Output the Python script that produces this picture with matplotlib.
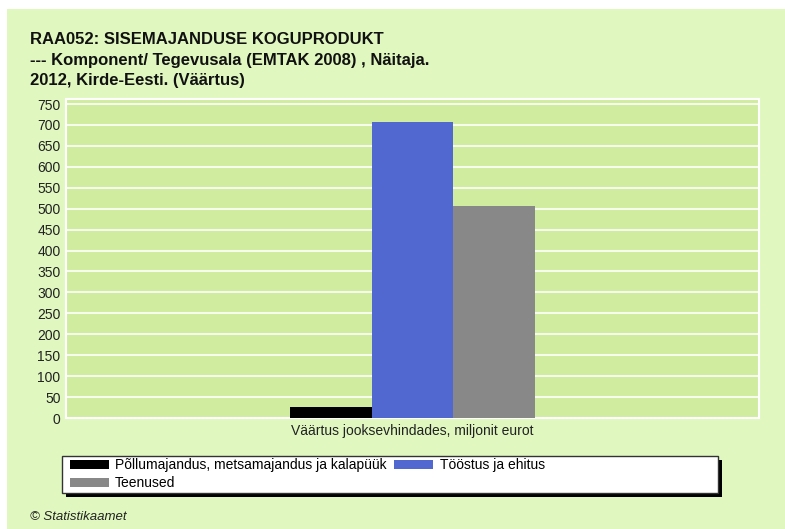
import matplotlib.pyplot as plt
from matplotlib.patches import Rectangle

plt.rcParams['font.family'] = ['Liberation Sans', 'DejaVu Sans']

title_lines = [
    "RAA052: SISEMAJANDUSE KOGUPRODUKT",
    "--- Komponent/ Tegevusala (EMTAK 2008) , Näitaja.",
    "2012, Kirde-Eesti. (Väärtus)",
]
category = "Väärtus jooksevhindades, miljonit eurot"
series = ["Põllumajandus, metsamajandus ja kalapüük", "Tööstus ja ehitus", "Teenused"]
values = [26, 707, 507]
colors = ["#000000", "#5068D0", "#888888"]
yticks = list(range(0, 751, 50))

W, H = 785, 529
fig = plt.figure(figsize=(W / 100, H / 100), dpi=100)
fig.patch.set_facecolor("white")

# light green panel
fig.patches.append(Rectangle((7 / W, 0), 1 - 7 / W, 1 - 9 / H, transform=fig.transFigure,
                             facecolor="#E0F8C0", edgecolor="none", zorder=-5))

ax = fig.add_axes([66 / W, 1 - 418 / H, (759 - 66) / W, (418 - 99) / H])
ax.set_facecolor("#D0EC9F")

bw = 0.118
for i, (s, v, c) in enumerate(zip(series, values, colors)):
    ax.bar(0.5 + (i - 1) * bw, v, width=bw, color=c, label=s, zorder=3)

ax.set_xlim(0, 1)
ax.set_ylim(0, 762)
ax.set_yticks(yticks)
ax.set_yticklabels([str(t) for t in yticks], fontsize=10, color="#222222")
ax.set_xticks([0.5])
ax.set_xticklabels([category], fontsize=10, color="#222222")
ax.tick_params(length=0, pad=4)
ax.grid(axis="y", color="white", linewidth=1.2, zorder=1)
for sp in ax.spines.values():
    sp.set_color("white")
    sp.set_linewidth(1.5)

for k, line in enumerate(title_lines):
    fig.text(30 / W, 1 - (39 + k * 21) / H, line, fontsize=12, fontweight="bold",
             va="center", ha="left", color="#111111")

# legend box with shadow
x0, y0, x1, y1 = 62, 456, 718, 493
fig.patches.append(Rectangle(((x0 + 4) / W, 1 - (y1 + 4) / H), (x1 - x0) / W, (y1 - y0) / H,
                             transform=fig.transFigure, facecolor="black", edgecolor="none", zorder=1))
fig.patches.append(Rectangle((x0 / W, 1 - y1 / H), (x1 - x0) / W, (y1 - y0) / H,
                             transform=fig.transFigure, facecolor="white", edgecolor="#333333",
                             linewidth=1.0, zorder=2))

handles, labels = ax.get_legend_handles_labels()
order = [0, 2, 1]
leg = fig.legend([handles[i] for i in order], [labels[i] for i in order],
                 loc="upper left", bbox_to_anchor=(70 / W, 1 - 458 / H),
                 ncol=2, fontsize=10, frameon=False,
                 handlelength=2.8, handleheight=0.6, handletextpad=0.45,
                 borderpad=0, labelspacing=0.3, borderaxespad=0, columnspacing=0.55)
leg.set_zorder(3)

fig.text(30 / W, 1 - 517 / H, "© Statistikaamet", fontsize=9.5, style="italic",
         va="center", ha="left", color="#222222")

fig.savefig("out.png", dpi=100)
